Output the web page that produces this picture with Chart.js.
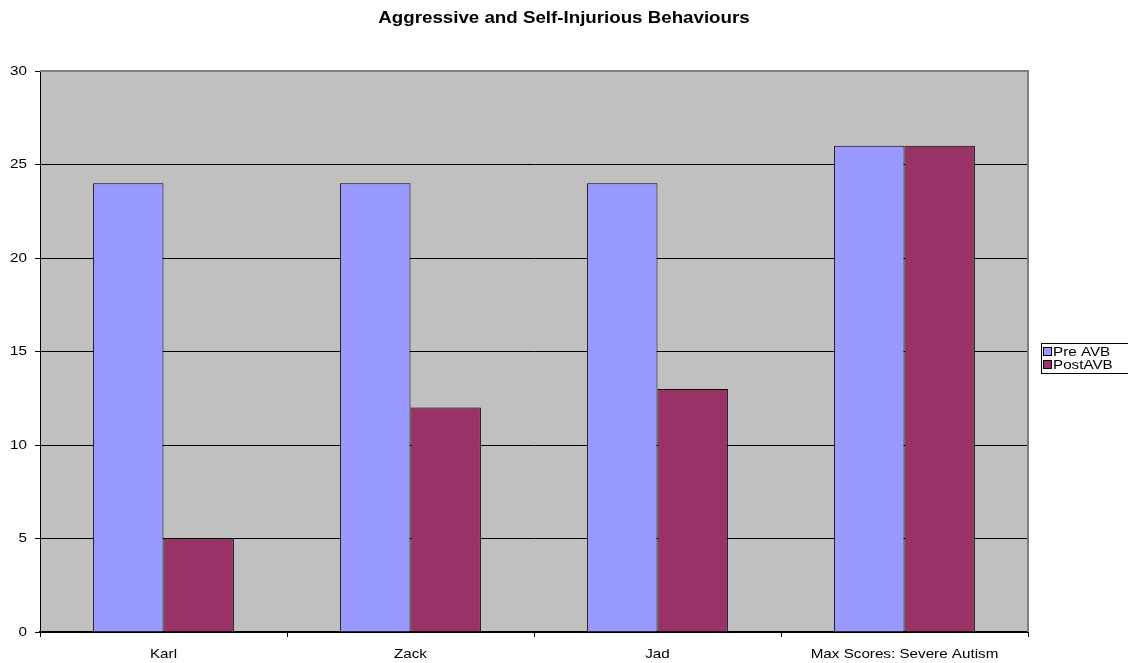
<!DOCTYPE html>
<html>
<head>
<meta charset="utf-8">
<script src="https://cdn.jsdelivr.net/npm/chart.js@4/dist/chart.umd.min.js"></script>
<style>
  html, body { margin: 0; padding: 0; background: #ffffff; }
  #wrap { width: 1128px; height: 663px; position: relative; }
</style>
</head>
<body>
<div id="wrap"><canvas id="c" width="1128" height="663"></canvas></div>
<script>
const categories = ['Karl', 'Zack', 'Jad', 'Max Scores: Severe Autism'];
const preAVB = [24, 24, 24, 26];
const postAVB = [5, 12, 13, 26];
const seriesNames = ['Pre AVB', 'PostAVB'];
const seriesColors = ['#9999FF', '#993366'];
const chartTitle = 'Aggressive and Self-Injurious Behaviours';

const FONT = '"Liberation Sans", Arial, sans-serif';
const TEXT_STRETCH = 1.17; // text is drawn slightly wide

const canvas = document.getElementById('c');
const ctx2d = canvas.getContext('2d');
const baseFillText = ctx2d.fillText.bind(ctx2d);
ctx2d.fillText = function (text, x, y, maxWidth) {
  this.save();
  this.translate(x, y);
  this.scale(TEXT_STRETCH, 1);
  if (maxWidth !== undefined) baseFillText(text, 0, 0, maxWidth / TEXT_STRETCH);
  else baseFillText(text, 0, 0);
  this.restore();
};

// Grey plot background with a darker top/right frame
const plotBackground = {
  id: 'plotBackground',
  beforeDraw(chart) {
    const { ctx, chartArea: a } = chart;
    ctx.save();
    ctx.fillStyle = '#C0C0C0';
    ctx.fillRect(a.left, a.top, a.right - a.left, a.bottom - a.top);
    ctx.restore();
  },
  afterDatasetsDraw(chart) {
    const { ctx, chartArea: a } = chart;
    ctx.save();
    ctx.strokeStyle = '#808080';
    ctx.lineWidth = 2;
    ctx.beginPath();
    ctx.moveTo(a.left, a.top);
    ctx.lineTo(a.right, a.top);
    ctx.lineTo(a.right, a.bottom);
    ctx.stroke();
    ctx.restore();
  }
};

// Title and boxed legend
const decorations = {
  id: 'decorations',
  afterDraw(chart) {
    const { ctx } = chart;
    ctx.save();
    ctx.fillStyle = '#000';
    ctx.font = 'bold 16px ' + FONT;
    ctx.textAlign = 'center';
    ctx.textBaseline = 'middle';
    ctx.fillText(chartTitle, 564, 19);

    // legend
    const bx = 1041.5, by = 343.5, bw = 90, bh = 30;
    ctx.strokeStyle = '#000';
    ctx.lineWidth = 1;
    ctx.strokeRect(bx, by, bw, bh);
    ctx.font = '13px ' + FONT;
    ctx.textAlign = 'left';
    seriesNames.forEach((name, i) => {
      const y = 352 + i * 13;
      ctx.fillStyle = seriesColors[i];
      ctx.fillRect(1044, y - 4, 7, 7);
      ctx.strokeStyle = '#000';
      ctx.strokeRect(1043.5, y - 4.5, 8, 8);
      ctx.fillStyle = '#000';
      ctx.fillText(name, 1053, y);
    });
    ctx.restore();
  }
};

new Chart(canvas, {
  type: 'bar',
  data: {
    labels: categories,
    datasets: [
      { label: seriesNames[0], data: preAVB, backgroundColor: seriesColors[0], borderColor: '#000', borderWidth: 1 },
      { label: seriesNames[1], data: postAVB, backgroundColor: seriesColors[1], borderColor: '#000', borderWidth: 1 }
    ]
  },
  options: {
    responsive: false,
    animation: false,
    devicePixelRatio: 1,
    layout: { padding: { top: 71, left: 0, right: 100, bottom: 0 } },
    datasets: { bar: { categoryPercentage: 0.57, barPercentage: 1.0 } },
    plugins: {
      legend: { display: false },
      title: { display: false },
      tooltip: { enabled: false }
    },
    scales: {
      x: {
        afterFit(scale) { scale.height = 31; },
        grid: { offset: true, drawOnChartArea: false, drawTicks: true, tickLength: 5, color: '#000' },
        border: { color: '#000', width: 2 },
        ticks: { color: '#000', font: { family: FONT, size: 13 }, padding: 10, maxRotation: 0, autoSkip: false }
      },
      y: {
        min: 0, max: 30,
        afterFit(scale) { scale.width = 40; },
        grid: { color: '#000', lineWidth: 1, tickLength: 5, drawTicks: true },
        border: { color: '#000', width: 1 },
        ticks: { stepSize: 5, color: '#000', font: { family: FONT, size: 13 }, padding: 8 }
      }
    }
  },
  plugins: [plotBackground, decorations]
});
</script>
</body>
</html>
